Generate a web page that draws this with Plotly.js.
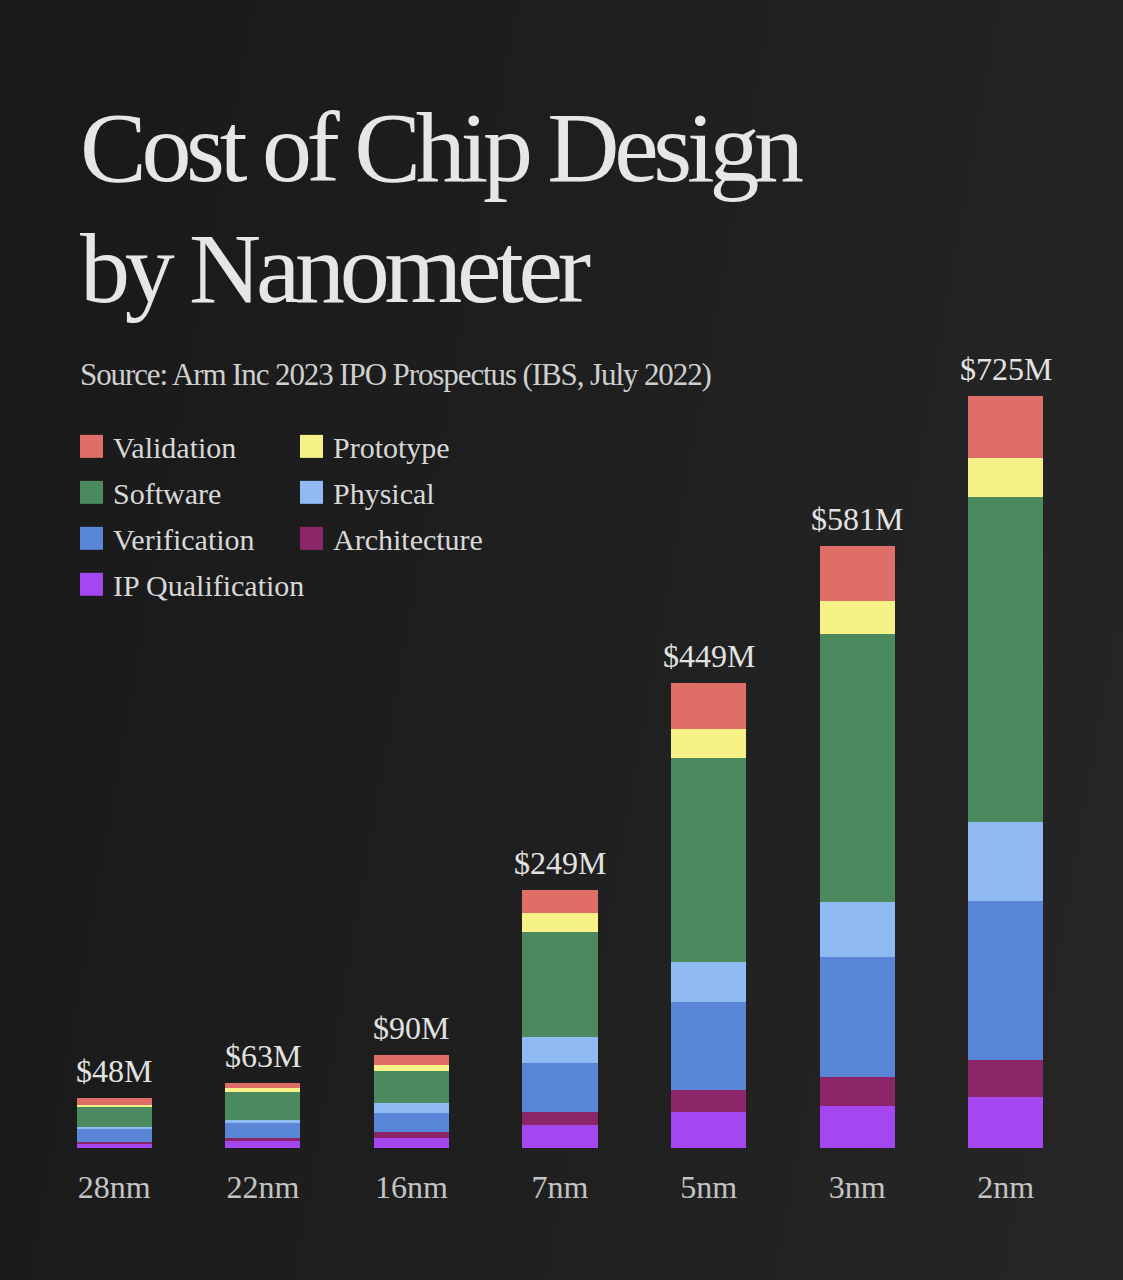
<!DOCTYPE html>
<html>
<head>
<meta charset="utf-8">
<script src="https://cdn.plot.ly/plotly-3.0.1.min.js"></script>
<style>
  html, body { margin: 0; padding: 0; }
  body { width: 1123px; height: 1280px; background: linear-gradient(100deg, #191919 0%, #1f1f1f 50%, #262626 100%); }
  #chart { width: 1123px; height: 1280px; }
  text.annotation-text[style*="font-size: 100px"] { letter-spacing: -5.3px; }
  text.annotation-text[style*="font-size: 31px"] { letter-spacing: -1.1px; }
</style>
</head>
<body>
<div id="chart"></div>
<script>
const categories = ['28nm', '22nm', '16nm', '7nm', '5nm', '3nm', '2nm'];
const totals = [48, 63, 90, 249, 449, 581, 725];
const totalLabels = ['$48M', '$63M', '$90M', '$249M', '$449M', '$581M', '$725M'];

// Segments (USD millions), stacked bottom to top
const ipQualification = [3.6, 6.4, 9.5, 22.2, 34.4, 40.5, 49.6];
const architecture    = [2.5, 2.8, 5.7, 12.3, 21.9, 28.1, 35.0];
const verification    = [12.1, 15.0, 19.0, 47.1, 84.9, 115.6, 154.0];
const physical        = [2.5, 2.8, 9.5, 25.8, 37.9, 53.1, 75.5];
const software        = [18.5, 26.9, 30.4, 100.6, 197.5, 258.9, 313.5];
const prototype       = [2.7, 3.7, 6.3, 18.7, 28.0, 31.6, 37.6];
const validation      = [6.1, 5.5, 9.5, 22.2, 44.4, 53.2, 59.8];

const seriesNames  = ['IP Qualification', 'Architecture', 'Verification', 'Physical', 'Software', 'Prototype', 'Validation'];
const seriesValues = [ipQualification, architecture, verification, physical, software, prototype, validation];
const seriesColors = ['#a547f0', '#8c2668', '#5986d6', '#8fbaf2', '#4b8a5f', '#f6f287', '#df6e69'];

const legendOrder = ['Validation', 'Prototype', 'Software', 'Physical', 'Verification', 'Architecture', 'IP Qualification'];

const titleLines = ['Cost of Chip Design', 'by Nanometer'];
const subtitle = 'Source: Arm Inc 2023 IPO Prospectus (IBS, July 2022)';

// ---- layout geometry ----
const W = 1123, H = 1280;
const M = { l: 40, r: 43, t: 214.5, b: 132 };
const PW = W - M.l - M.r, PH = H - M.t - M.b;
const px = x => (x - M.l) / PW;
const py = y => (H - M.b - y) / PH;

const serif = '"Liberation Serif", "DejaVu Serif", serif';

const traces = seriesNames.map((name, i) => ({
  type: 'bar',
  name: name,
  x: categories,
  y: seriesValues[i],
  marker: { color: seriesColors[i], line: { width: 0 } },
  hoverinfo: 'x+y+name',
  showlegend: false
}));

const annotations = [];
const shapes = [];

// Title
titleLines.forEach((t, i) => {
  annotations.push({
    xref: 'paper', yref: 'paper', x: px(78), y: py(i === 0 ? 147 : 268),
    xanchor: 'left', yanchor: 'middle', showarrow: false,
    text: t, font: { family: serif, size: 100, color: '#e6e6e6' }
  });
});
// Subtitle
annotations.push({
  xref: 'paper', yref: 'paper', x: px(78), y: py(374),
  xanchor: 'left', yanchor: 'middle', showarrow: false,
  text: subtitle, font: { family: serif, size: 31, color: '#cfcfcf' }
});

// Legend (manual, two columns)
legendOrder.forEach((name, i) => {
  const idx = seriesNames.indexOf(name);
  const col = i % 2, row = Math.floor(i / 2);
  const x0 = 80 + col * 220;
  const yc = 446 + row * 46;
  shapes.push({
    type: 'rect', xref: 'paper', yref: 'paper', layer: 'above',
    x0: px(x0), x1: px(x0 + 23), y0: py(yc + 11.5), y1: py(yc - 11.5),
    fillcolor: seriesColors[idx], line: { width: 0 }
  });
  annotations.push({
    xref: 'paper', yref: 'paper', x: px(x0 + 31), y: py(yc + 1),
    xanchor: 'left', yanchor: 'middle', showarrow: false,
    text: name, font: { family: serif, size: 30, color: '#d8d8d8' }
  });
});

// Totals above bars
categories.forEach((c, i) => {
  annotations.push({
    x: c, y: totals[i], xref: 'x', yref: 'y',
    xanchor: 'center', yanchor: 'bottom', yshift: 7, showarrow: false,
    text: totalLabels[i], font: { family: serif, size: 32, color: '#e2e2e2' }
  });
});

const layout = {
  width: W, height: H,
  margin: M,
  paper_bgcolor: 'rgba(0,0,0,0)',
  plot_bgcolor: 'rgba(0,0,0,0)',
  barmode: 'stack',
  bargap: 0.495,
  showlegend: false,
  font: { family: serif, color: '#c8c8c8' },
  xaxis: {
    type: 'category',
    showgrid: false, zeroline: false, showline: false,
    ticks: '', ticklabelstandoff: 17,
    tickfont: { family: serif, size: 32, color: '#c4c4c4' }
  },
  yaxis: {
    range: [0, 900], visible: false, showgrid: false, zeroline: false, fixedrange: true
  },
  annotations: annotations,
  shapes: shapes
};

Plotly.newPlot('chart', traces, layout, { displayModeBar: false, staticPlot: true });
</script>
</body>
</html>
